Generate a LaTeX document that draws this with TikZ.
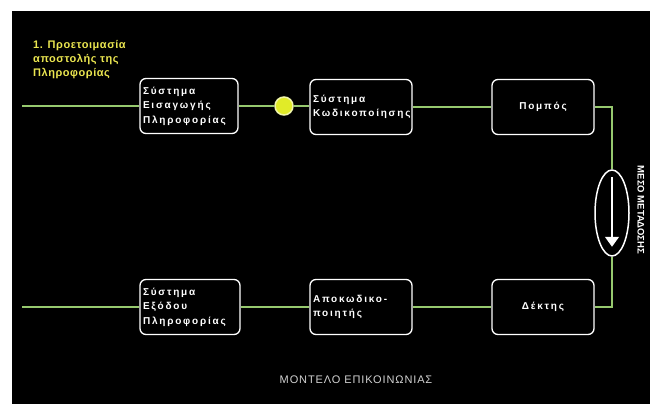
\documentclass[tikz,border=0pt]{standalone}
\usepackage{fontspec}
\setmainfont{Liberation Sans}
\newfontfamily\spacedfont{Liberation Sans}[LetterSpace=18]
\newfontfamily\headfont{Liberation Sans}[LetterSpace=5]
\newfontfamily\titlefont{Liberation Sans}[LetterSpace=8]
\usetikzlibrary{shapes.geometric,arrows.meta}
\definecolor{lgreen}{RGB}{150,200,110}
\definecolor{ytext}{RGB}{235,230,80}
\definecolor{dotfill}{RGB}{225,235,40}
\definecolor{dotedge}{RGB}{240,245,170}
\definecolor{ltgray}{RGB}{210,210,210}
\begin{document}
\begin{tikzpicture}[x=1pt,y=-1pt,
  blk/.style={draw=white, line width=1.3pt, rounded corners=6pt, text=white,
    font=\spacedfont\bfseries\fontsize{10}{14.5}\selectfont, inner sep=3pt,
    minimum height=55pt},
  wire/.style={draw=lgreen, line width=2.5pt}]
\useasboundingbox (0,0) rectangle (650,404);
\fill[white] (0,0) rectangle (650,404);
\fill[black] (12,11) rectangle (650,404);

\node[anchor=north west, text=ytext, font=\headfont\bfseries\fontsize{11}{14}\selectfont,
  align=left, inner sep=0] (head) at (33,40) {1. Προετοιμασία\\αποστολής της\\Πληροφορίας};

\node[blk, minimum width=98pt, text width=92pt, align=left] (b1) at (189,106) {Σύστημα\\Εισαγωγής\\Πληροφορίας};
\node[circle, fill=dotfill, draw=dotedge, line width=1.5pt, minimum size=18pt, inner sep=0] (dot) at (284,106) {};
\node[blk, minimum width=102pt, text width=96pt, align=left] (b2) at (361,107) {Σύστημα\\Κωδικοποίησης};
\node[blk, minimum width=102pt, align=center] (b3) at (543,107) {Πομπός};

\node[ellipse, draw=white, line width=1.5pt, minimum width=34pt, minimum height=86pt, inner sep=0] (ell) at (612,213) {};
\node[rotate=-90, text=white, font=\bfseries\fontsize{9.5}{10}\selectfont] (mt) at (641,210) {ΜΕΣΟ ΜΕΤΑΔΟΣΗΣ};

\node[blk, minimum width=100pt, text width=94pt, align=left] (b6) at (190,307) {Σύστημα\\Εξόδου\\Πληροφορίας};
\node[blk, minimum width=102pt, text width=96pt, align=left] (b5) at (361,307) {Αποκωδικο-\\ποιητής};
\node[blk, minimum width=102pt, align=center] (b4) at (543,307) {Δέκτης};

\node[text=ltgray, font=\titlefont\fontsize{11}{12}\selectfont] (title) at (356,380) {ΜΟΝΤΕΛΟ ΕΠΙΚΟΙΝΩΝΙΑΣ};

\coordinate (lt) at (22,106);
\coordinate (lb) at (22,307);
\coordinate (c1) at (612,107);
\coordinate (c2) at (612,307);

\draw[wire] (lt) -- (b1.west);
\draw[wire] (b1.east) -- (dot);
\draw[wire] (dot) -- (dot -| b2.west);
\draw[wire] (b2.east) -- (b3.west);
\draw[wire] (b3.east) -- (c1) -- (ell.north);
\draw[wire] (ell.south) -- (c2) -- (b4.east);
\draw[wire] (b4.west) -- (b5.east);
\draw[wire] (b5.west) -- (b6.east);
\draw[wire] (b6.west) -- (lb);

\draw[white, line width=1.5pt, -{Triangle[width=14pt,length=10pt]}]
  ([yshift=-8pt]ell.north) -- ([yshift=10pt]ell.south);
\end{tikzpicture}
\end{document}
